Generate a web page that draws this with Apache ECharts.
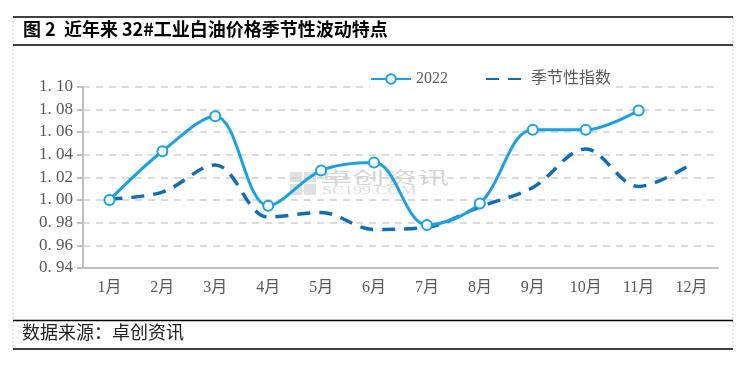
<!DOCTYPE html>
<html><head><meta charset="utf-8">
<script src="https://cdn.jsdelivr.net/npm/echarts@6/dist/echarts.min.js"></script>
<style>html,body{margin:0;padding:0;background:#fff}#c{width:749px;height:366px}</style>
</head><body><div id="c"></div>
<script>
const months = ['1月','2月','3月','4月','5月','6月','7月','8月','9月','10月','11月','12月'];
const y2022 = [1.000, 1.043, 1.074, 0.995, 1.026, 1.033, 0.978, 0.997, 1.062, 1.062, 1.079, null];
const seasonal = [1.001, 1.007, 1.031, 0.985, 0.989, 0.974, 0.976, 0.994, 1.011, 1.045, 1.012, 1.032];
const yMin = 0.94, yMax = 1.10, yStep = 0.02;
const titleText = '图 2  近年来 32#工业白油价格季节性波动特点';
const sourceText = '数据来源：卓创资讯';

const chart = echarts.init(document.getElementById('c'));
const cjk = '"Noto Sans CJK SC", sans-serif';
const serif = '"Liberation Serif", "Noto Sans CJK SC", serif';
chart.setOption({
  animation: false,
  backgroundColor: '#fff',
  grid: {left: 83, right: 31, top: 86.7, bottom: 98, containLabel: false},
  legend: {
    top: 69, left: 370, itemGap: 37, itemWidth: 40, itemHeight: 12,
    backgroundColor: '#fff', padding: [2, 4, 2, 0],
    textStyle: {color: '#595959', fontSize: 16, fontFamily: serif},
    data: [
      {name: '2022'},
      {name: '季节性指数', itemStyle: {opacity: 0}}
    ]
  },
  xAxis: {
    type: 'category', data: months, boundaryGap: true,
    axisLine: {lineStyle: {color: '#BFBFBF', width: 2}},
    axisTick: {show: false},
    axisLabel: {color: '#595959', fontSize: 16, fontFamily: serif, margin: 12}
  },
  yAxis: {
    type: 'value', min: yMin, max: yMax, interval: yStep,
    axisLine: {show: true, lineStyle: {color: '#BFBFBF', width: 2}},
    axisTick: {show: true, length: 6, lineStyle: {color: '#BFBFBF', width: 2}},
    splitLine: {lineStyle: {color: '#D0D0D0', width: 1.5, type: [7, 6]}},
    axisLabel: {color: '#595959', fontSize: 17, fontFamily: serif, margin: 10,
      formatter: v => v.toFixed(2).replace('.', '. ')}
  },
  series: [
    {
      name: '2022', type: 'line', data: y2022, smooth: 0.35,
      symbol: 'circle', symbolSize: 10,
      itemStyle: {color: '#fff', borderColor: '#1BA1E2', borderWidth: 2},
      lineStyle: {color: '#1BA1E2', width: 3},
      z: 3
    },
    {
      name: '季节性指数', type: 'line', data: seasonal, smooth: 0.35,
      symbol: 'none',
      itemStyle: {color: '#0E6DB6'},
      lineStyle: {color: '#0E6DB6', width: 3.5, type: [13, 9]},
      z: 2
    }
  ],
  graphic: [
    {type: 'rect', shape: {x: 290, y: 172, width: 12, height: 10}, style: {fill: 'rgba(150,150,150,0.3)'}, z: 0},
    {type: 'rect', shape: {x: 304, y: 172, width: 12, height: 10}, style: {fill: 'rgba(150,150,150,0.3)'}, z: 0},
    {type: 'rect', shape: {x: 290, y: 184, width: 12, height: 11}, style: {fill: 'rgba(150,150,150,0.3)'}, z: 0},
    {type: 'rect', shape: {x: 304, y: 184, width: 12, height: 11}, style: {fill: 'rgba(150,150,150,0.3)'}, z: 0},
    {type: 'text', x: 320, y: 169, scaleX: 1.9, z: 0, style: {text: '卓创资讯', fill: 'rgba(150,150,150,0.4)', font: '17px ' + cjk}},
    {type: 'text', x: 322, y: 185, scaleX: 1.5, z: 0, style: {text: 'SC199.COM', fill: 'rgba(150,150,150,0.35)', font: '12px ' + serif}},
    {type: 'line', shape: {x1: 13, y1: 17, x2: 13, y2: 349}, style: {stroke: '#C8C8C8', lineWidth: 1, lineDash: [2, 2]}},
    {type: 'line', shape: {x1: 733, y1: 17, x2: 733, y2: 349}, style: {stroke: '#C8C8C8', lineWidth: 1, lineDash: [2, 2]}},
    {type: 'line', shape: {x1: 13, y1: 17, x2: 733, y2: 17}, style: {stroke: '#000', lineWidth: 1.5}},
    {type: 'line', shape: {x1: 13, y1: 45, x2: 733, y2: 45}, style: {stroke: '#000', lineWidth: 1.5}},
    {type: 'line', shape: {x1: 13, y1: 320.5, x2: 733, y2: 320.5}, style: {stroke: '#000', lineWidth: 1.5}},
    {type: 'line', shape: {x1: 13, y1: 349, x2: 733, y2: 349}, style: {stroke: '#000', lineWidth: 1.5}},
    {type: 'text', left: 23, top: 20, style: {text: titleText, fill: '#000', font: 'bold 18px ' + cjk}},
    {type: 'text', left: 22, top: 323, style: {text: sourceText, fill: '#222', font: '18px ' + cjk}}
  ]
});
</script></body></html>
